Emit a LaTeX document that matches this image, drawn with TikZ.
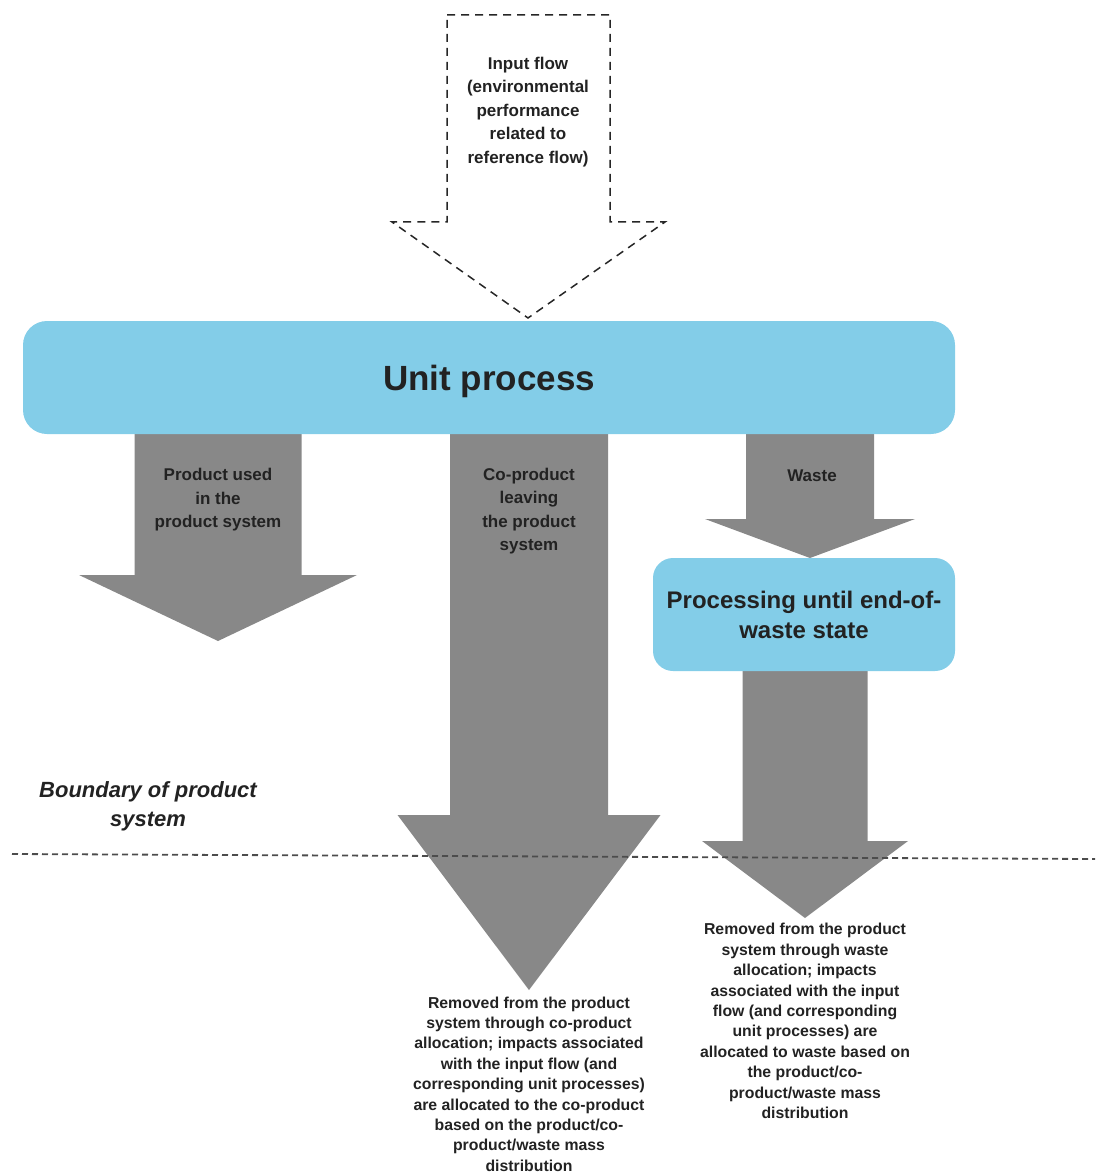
\documentclass[tikz,border=0pt]{standalone}
\usepackage{fontspec}
\setmainfont{Liberation Sans}

\definecolor{procblue}{RGB}{131,205,232}
\definecolor{flowgray}{RGB}{136,136,136}
\definecolor{labelink}{RGB}{34,34,34}

\tikzset{
  procbox/.style={fill=procblue, rounded corners=24pt, text=labelink, align=center, inner sep=0pt},
  flowlabel/.style={text=labelink, align=center, font=\fontsize{17}{23.5}\selectfont\bfseries},
  notelabel/.style={text=labelink, align=center, font=\fontsize{15.8}{20.4}\selectfont\bfseries},
  inputflow/.style={draw=black!85, line width=1.5pt, dash pattern=on 8pt off 6pt},
  boundaryline/.style={draw=black!70, line width=1.8pt, dash pattern=on 6pt off 4pt},
}

\begin{document}
\begin{tikzpicture}[x=1pt,y=-1pt]
  \useasboundingbox (0,0) rectangle (1095,1174);

  % input flow (dashed arrow)
  \draw[inputflow] (447,15) -- (610,15) -- (610,222) -- (665,222) -- (528,318)
       -- (392,222) -- (447,222) -- cycle;

  % grey output flows: centre / top / half shaft / head line / half head / tip
  \foreach \xc/\ya/\sw/\yb/\hw/\yc in {218/434/83.5/575/139/641,
      529/434/79/815/131.5/990, 810/434/64/519/105/558, 805/671/62.5/841/103/918}{
    \fill[flowgray] (\xc-\sw,\ya) -- (\xc+\sw,\ya) -- (\xc+\sw,\yb) -- (\xc+\hw,\yb)
         -- (\xc,\yc) -- (\xc-\hw,\yb) -- (\xc-\sw,\yb) -- cycle;
  }

  \node[procbox, minimum width=932pt, minimum height=113pt, text depth=0pt,
        font=\fontsize{35}{40}\selectfont\bfseries] (unit) at (489,377.5) {Unit process};
  \node[procbox, rounded corners=20pt, minimum width=302pt, minimum height=113pt,
        font=\fontsize{24}{30}\selectfont\bfseries] (endofwaste) at (804,614.5)
        {Processing until end-of-\\waste state};

  \node[flowlabel] (inputlabel) at (528,112)
        {Input flow\\(environmental\\performance\\related to\\reference flow)};
  \node[flowlabel] (usedlabel) at (218,500) {Product used\\in the\\product system};
  \node[flowlabel] (colabel) at (529,511) {Co-product\\leaving\\the product\\system};
  \node[flowlabel] (wastelabel) at (812,476) {Waste};

  % boundary of the product system
  \draw[boundaryline] (12,854) -- (1095,859);
  \node[text=labelink, align=center, font=\fontsize{22}{29}\selectfont\bfseries\itshape]
        (boundary) at (148,806) {Boundary of product\\system};

  \node[notelabel] (conote) at (529,1084)
        {Removed from the product\\system through co-product\\allocation; impacts associated\\with the input flow (and\\corresponding unit processes)\\are allocated to the co-product\\based on the product/co-\\product/waste mass\\distribution};
  \node[notelabel] (wastenote) at (805,1021)
        {Removed from the product\\system through waste\\allocation; impacts\\associated with the input\\flow (and corresponding\\unit processes) are\\allocated to waste based on\\the product/co-\\product/waste mass\\distribution};
\end{tikzpicture}
\end{document}
